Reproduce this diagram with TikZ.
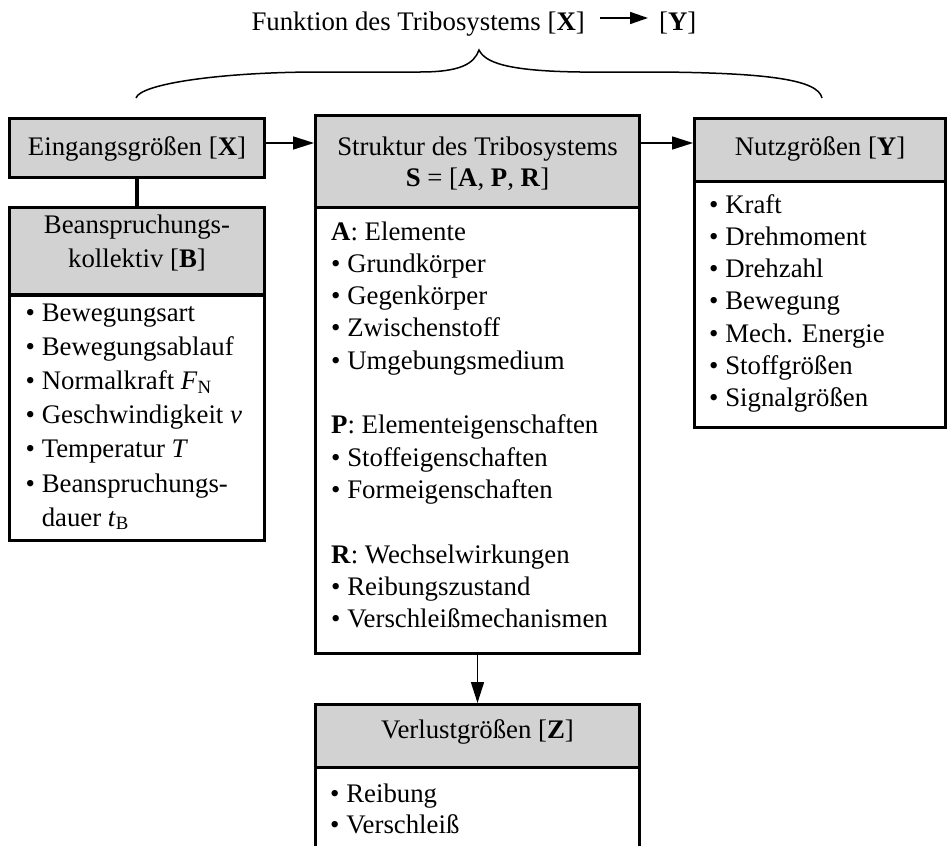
\documentclass[tikz,border=0pt]{standalone}
\usepackage{fontspec}
\setmainfont{Liberation Serif}
\usetikzlibrary{arrows.meta}
\definecolor{hdr}{RGB}{210,210,210}
\begin{document}
\begin{tikzpicture}[x=1pt,y=-1pt,
  txt/.style={inner sep=0pt, font=\fontsize{26.8}{32.2}\selectfont},
  frame/.style={draw, line width=3.2pt, fill=white, inner sep=0pt},
  hd/.style={draw, line width=3.2pt, fill=hdr, inner sep=0pt},
  conn/.style={line width=1.6pt, -{Triangle[length=21pt,width=13pt]}},
  ]
\useasboundingbox (0,0) rectangle (948,846);
\clip (0,0) rectangle (948,846);

% title
\node[txt, anchor=base east] (t1) at (585,30) {Funktion des Tribosystems [\textbf{X}]};
\node[txt, anchor=base west] (t2) at (659,30) {[\textbf{Y}]};
\coordinate (ty) at (0,18);
\draw[line width=1.5pt, -{Triangle[length=18pt,width=12pt]}] ([xshift=15pt]t1.east |- ty) -- ([xshift=-11pt]t2.west |- ty);

% brace
\draw[line width=1.5pt] (136,98) .. controls (140,84) and (220,72) .. (320,72) -- (420,72)
  .. controls (460,72) and (474,64) .. (479,50)
  .. controls (485,62) and (505,71) .. (580,72) -- (660,72)
  .. controls (770,73) and (818,80) .. (822,98);

% Eingangsgroessen
\node[hd, minimum width=254.8pt, minimum height=58.8pt] (ein) at (137,148) {};
\node[txt, anchor=base] (eint) at (137,155) {Eingangsgrößen [\textbf{X}]};

% Beanspruchungskollektiv
\node[frame, minimum width=254.8pt, minimum height=332.8pt] (bb) at (137,374) {};
\node[hd, minimum width=254.8pt, minimum height=87.4pt] (bh) at (137,251.3) {};
\node[txt, anchor=base] (bht1) at (137,233) {Beanspruchungs-};
\node[txt, anchor=base] (bht2) at (137,267) {kollektiv [\textbf{B}]};
\foreach \t [count=\i from 0] in {• Bewegungsart, • Bewegungsablauf,
  • Normalkraft \textit{F}\textsubscript{N}, • Geschwindigkeit \textit{v},
  • Temperatur \textit{T}, • Beanspruchungs-, \hphantom{• }dauer \textit{t}\textsubscript{B}}
  \node[txt, anchor=base west] (bi\i) at (25.5,{321+34.2*\i}) {\t};

% Struktur
\node[frame, minimum width=323.8pt, minimum height=537.8pt] (sb) at (477.5,384.5) {};
\node[hd, minimum width=323.8pt, minimum height=91.8pt] (sh) at (477.5,161.5) {};
\node[txt, anchor=base] (sht1) at (477.5,155) {Struktur des Tribosystems};
\node[txt, anchor=base] (sht2) at (477.5,186) {\textbf{S} = [\textbf{A}, \textbf{P}, \textbf{R}]};
\foreach \k/\t in {0/{\textbf{A}: Elemente}, 1/{• Grundkörper}, 2/{• Gegenkörper},
  3/{• Zwischenstoff}, 4/{• Umgebungsmedium}, 6/{\textbf{P}: Elementeigenschaften},
  7/{• Stoffeigenschaften}, 8/{• Formeigenschaften}, 10/{\textbf{R}: Wechselwirkungen},
  11/{• Reibungszustand}, 12/{• Verschleißmechanismen}}
  \node[txt, anchor=base west] (si\k) at (331,{240+32.3*\k}) {\t};

% Nutzgroessen
\node[frame, minimum width=250.8pt, minimum height=308.8pt] (nb) at (820,273) {};
\node[hd, minimum width=250.8pt, minimum height=62.8pt] (nh) at (820,150) {};
\node[txt, anchor=base] (nht) at (820,155) {Nutzgrößen [\textbf{Y}]};
\foreach \t [count=\i from 0] in {• Kraft, • Drehmoment, • Drehzahl, • Bewegung,
  • Mech. Energie, • Stoffgrößen, • Signalgrößen}
  \node[txt, anchor=base west] (ni\i) at (709,{213+32.3*\i}) {\t};

% Verlustgroessen
\node[frame, minimum width=323.8pt, minimum height=193.8pt] (vb) at (477.5,801.5) {};
\node[hd, minimum width=323.8pt, minimum height=62.8pt] (vh) at (477.5,736) {};
\node[txt, anchor=base] (vht) at (477.5,738) {Verlustgrößen [\textbf{Z}]};
\node[txt, anchor=base west] (vi0) at (330,802) {• Reibung};
\node[txt, anchor=base west] (vi1) at (330,833) {• Verschleiß};

% connectors
\coordinate (ay) at (0,143);
\draw[line width=3.2pt] (ein.south) -- (bh.north);
\draw[conn] (ein.east |- ay) -- (sh.west |- ay);
\draw[conn] (sh.east |- ay) -- (nh.west |- ay);
\draw[conn] (sb.south) -- (vh.north);
\end{tikzpicture}
\end{document}
